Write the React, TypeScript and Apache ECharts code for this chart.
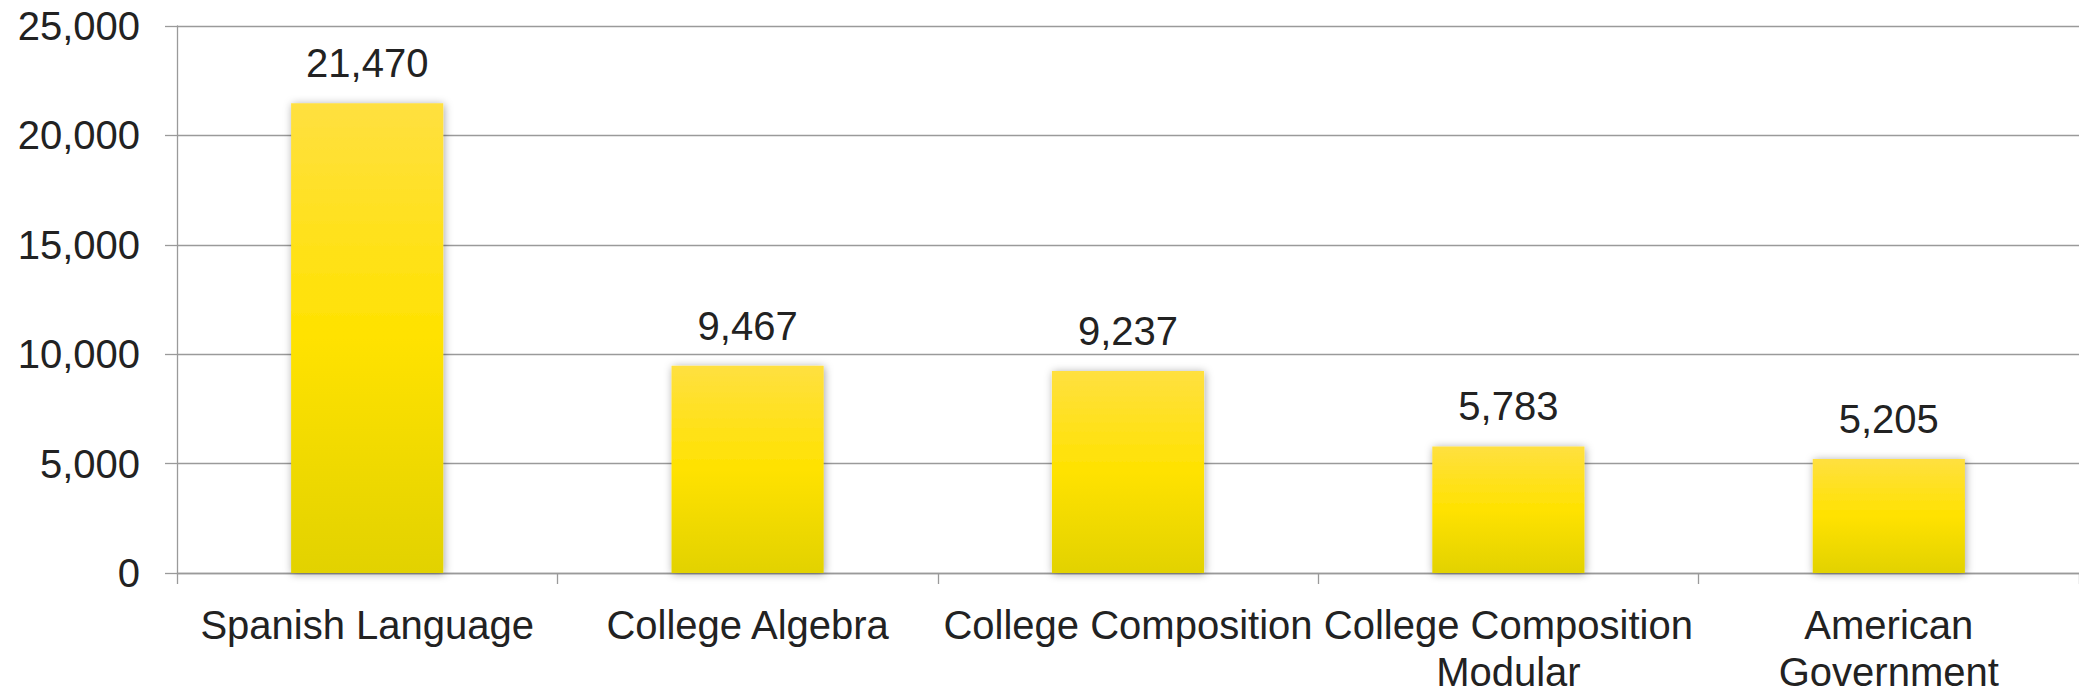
import React, { useEffect, useRef } from "react";
import * as echarts from "echarts";

const categories = [
  "Spanish Language",
  "College Algebra",
  "College Composition",
  "College Composition\nModular",
  "American\nGovernment",
];
const values = [21470, 9467, 9237, 5783, 5205];
const yTicks = { min: 0, max: 25000, interval: 5000 };

const FONT = "'Liberation Sans', Arial, sans-serif";

export default function App() {
  const ref = useRef<HTMLDivElement>(null);
  useEffect(() => {
    document.body.style.margin = "0";
    const chart = echarts.init(ref.current!, undefined, { renderer: "svg" });
    chart.setOption({
      animation: false,
      backgroundColor: "#ffffff",
      grid: { left: 177, right: 0, top: 26, bottom: 113, containLabel: false },
      xAxis: {
        type: "category",
        data: categories,
        axisLine: { lineStyle: { color: "#9a9a9a", width: 1.3 } },
        axisTick: { show: true, length: 11, lineStyle: { color: "#9a9a9a", width: 1.3 } },
        axisLabel: {
          interval: 0,
          color: "#222222",
          fontFamily: FONT,
          fontSize: 40,
          lineHeight: 47,
          margin: 28,
        },
      },
      yAxis: {
        type: "value",
        min: yTicks.min,
        max: yTicks.max,
        interval: yTicks.interval,
        axisLine: { show: true, lineStyle: { color: "#9a9a9a", width: 1.3 } },
        axisTick: { show: true, length: 12, lineStyle: { color: "#9a9a9a", width: 1.3 } },
        splitLine: { show: true, lineStyle: { color: "#9a9a9a", width: 1.3 } },
        axisLabel: {
          color: "#222222",
          fontFamily: FONT,
          fontSize: 40,
          margin: 37,
          formatter: (v: number) => v.toLocaleString("en-US"),
        },
      },
      series: [
        {
          type: "bar",
          data: values,
          barWidth: "40%",
          itemStyle: {
            color: new echarts.graphic.LinearGradient(0, 0, 0, 1, [
              { offset: 0, color: "#FFE040" },
              { offset: 0.5, color: "#FFE200" },
              { offset: 1, color: "#E2D200" },
            ]),
            shadowBlur: 8,
            shadowColor: "rgba(0,0,0,0.35)",
            shadowOffsetX: 1,
            shadowOffsetY: 1,
          },
          label: {
            show: true,
            position: "top",
            distance: 20,
            color: "#222222",
            fontFamily: FONT,
            fontSize: 40,
            formatter: (p: any) => Number(p.value).toLocaleString("en-US"),
          },
        },
      ],
    });
    return () => chart.dispose();
  }, []);
  return (
    <div
      ref={ref}
      style={{ position: "absolute", left: 0, top: 0, width: 2079, height: 695 }}
    />
  );
}
